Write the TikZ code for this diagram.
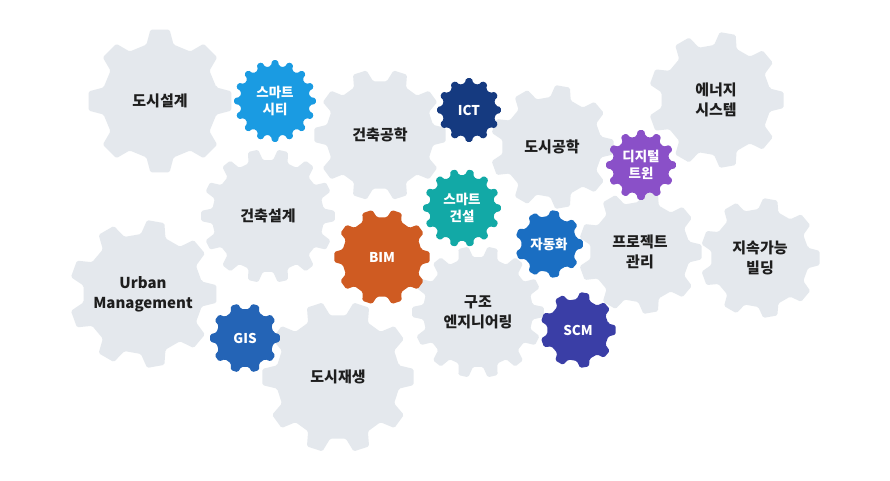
\documentclass[tikz,border=0pt]{standalone}
\usepackage{fontspec}
\setmainfont{Noto Sans CJK KR}
\begin{document}
\begin{tikzpicture}[x=1pt,y=-1pt]
\definecolor{gearg}{HTML}{E4E8ED}
\definecolor{txt}{HTML}{1E1E1E}
\definecolor{cblue}{HTML}{1A9BE2}
\definecolor{cnavy}{HTML}{153A80}
\definecolor{cpurple}{HTML}{8A50C8}
\definecolor{cteal}{HTML}{12A9A6}
\definecolor{corange}{HTML}{CF5B22}
\definecolor{cauto}{HTML}{1A6EC2}
\definecolor{cgis}{HTML}{2464B6}
\definecolor{cscm}{HTML}{3A3EA6}
\tikzset{glabel/.style={text=txt,align=center,font=\bfseries\fontsize{15}{20}\selectfont},
clabel/.style={text=white,align=center,font=\bfseries\fontsize{13.5}{17}\selectfont}}
\newcommand{\mygear}[8]{% name x y teeth rout rin color text
\begin{scope}[shift={(#2,#3)}]
\pgfmathsetmacro{\tt}{360/#4}
\fill[#7,rounded corners=1.5pt] (-0.3*\tt:#6)
 \foreach \i in {1,...,#4}{ -- ({(\i-1)*\tt-0.17*\tt}:#5) -- ({(\i-1)*\tt+0.17*\tt}:#5) -- ({(\i-1)*\tt+0.3*\tt}:#6) -- ({\i*\tt-0.3*\tt}:#6)} -- cycle;
\end{scope}
\node[#8] (#1) at (#2,#3) {};
}
\useasboundingbox (0,0) rectangle (890,480);
\fill[white] (0,0) rectangle (890,480);
% gray gears
\mygear{g1}{160}{101}{8}{72}{58}{gearg}{glabel}
\mygear{g3}{380}{135}{10}{66}{54}{gearg}{glabel}
\mygear{g5}{552}{147}{9}{62}{50}{gearg}{glabel}
\mygear{g6}{716}{100}{9}{68}{55}{gearg}{glabel}
\mygear{g8}{268}{216}{14}{67}{56}{gearg}{glabel}
\mygear{g12}{640}{252}{9}{62}{50}{gearg}{glabel}
\mygear{g13}{760}{258}{9}{60}{49}{gearg}{glabel}
\mygear{g14}{143}{294}{9}{74}{60}{gearg}{glabel}
\mygear{g16}{478}{312}{14}{66}{55}{gearg}{glabel}
\mygear{g18}{338}{377}{10}{76}{62}{gearg}{glabel}
% colored gears
\mygear{g2}{275}{101}{16}{41}{35}{cblue}{clabel}
\mygear{g4}{469}{110}{12}{32}{27}{cnavy}{clabel}
\mygear{g7}{641}{165}{12}{35}{29}{cpurple}{clabel}
\mygear{g9}{462}{208}{14}{39}{33}{cteal}{clabel}
\mygear{g10}{382}{257}{10}{48}{40}{corange}{clabel}
\mygear{g11}{549}{244}{9}{34}{28}{cauto}{clabel}
\mygear{g15}{245}{338}{10}{35}{29}{cgis}{clabel}
\mygear{g17}{578}{330}{9}{38}{31}{cscm}{clabel}
% labels
\node[glabel] at (g1) {도시설계};
\node[glabel] at (g3) {건축공학};
\node[glabel] at (g5) {도시공학};
\node[glabel] at (g6) {에너지\\시스템};
\node[glabel] at (g8) {건축설계};
\node[glabel] at (g12) {프로젝트\\관리};
\node[glabel] at (g13) {지속가능\\빌딩};
\node[glabel] at (g14) {Urban\\Management};
\node[glabel] at (g16) {구조\\엔지니어링};
\node[glabel] at (g18) {도시재생};
\node[clabel] at (g2) {스마트\\시티};
\node[clabel] at (g4) {ICT};
\node[clabel] at (g7) {디지털\\트윈};
\node[clabel] at (g9) {스마트\\건설};
\node[clabel] at (g10) {BIM};
\node[clabel] at (g11) {자동화};
\node[clabel] at (g15) {GIS};
\node[clabel] at (g17) {SCM};
\end{tikzpicture}
\end{document}
